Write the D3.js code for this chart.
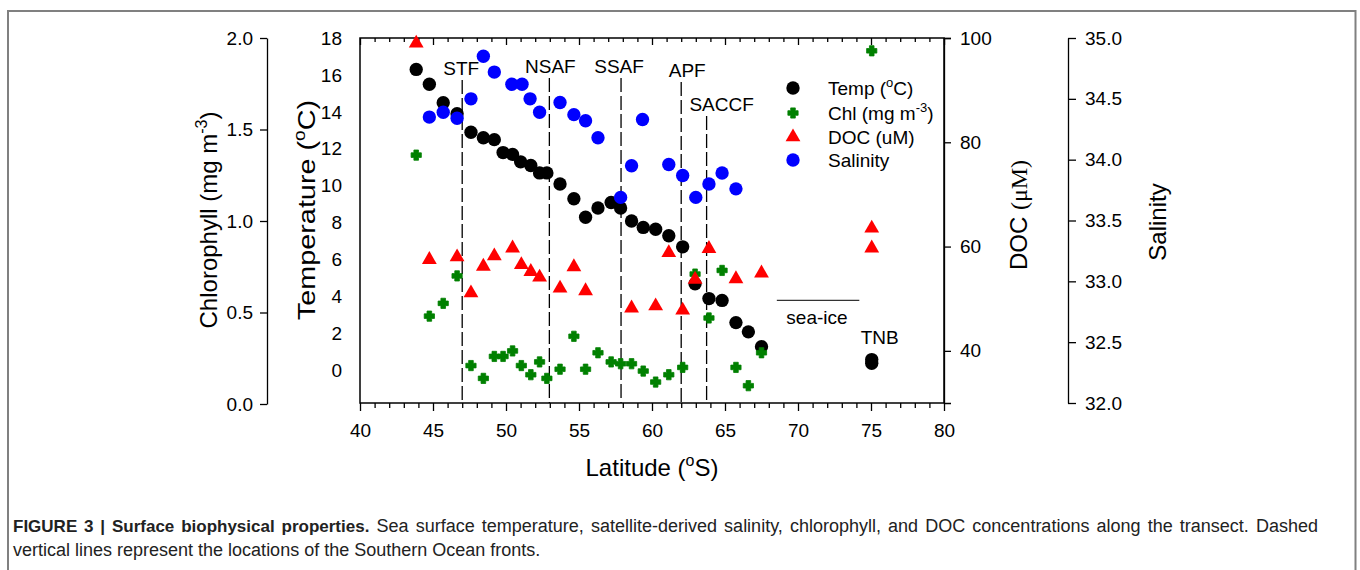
<!DOCTYPE html>
<meta charset="utf-8">
<style>
body { margin: 0; background: #fff; }
svg { display: block; font-family: "Liberation Sans", Arial, sans-serif; }
.axis text { font-size: 19px; fill: #000; }
.axis path, .axis line { stroke: #000; stroke-width: 1.3; }
.frame { fill: none; stroke: #000; stroke-width: 1.5; }
.front { stroke: #000; stroke-width: 1.3; stroke-dasharray: 14,4; }
.front-label, .note { font-size: 19px; }
.title { font-size: 24px; }
.legend text { font-size: 19px; }
.caption { font-size: 18px; fill: #222; }
</style>
<svg width="1360" height="570"></svg>

<script src="https://d3js.org/d3.v7.min.js"></script>
<script>

// temperature (oC)
var tempLat = [43.85, 44.75, 45.7, 46.65, 47.6, 48.45, 49.2, 49.8, 50.45, 51.0, 51.7, 52.3, 52.8, 53.7, 54.65, 55.45, 56.3, 57.2, 57.85, 58.6, 59.4, 60.25, 61.15, 62.1, 62.95, 63.9, 64.8, 65.75, 66.6, 67.5, 75.05, 75.05];
var tempVal = [16.3, 15.5, 14.5, 13.9, 12.9, 12.6, 12.5, 11.8, 11.7, 11.3, 11.1, 10.7, 10.7, 10.1, 9.3, 8.3, 8.8, 9.1, 8.8, 8.1, 7.75, 7.65, 7.3, 6.7, 4.7, 3.9, 3.8, 2.6, 2.1, 1.3, 0.6, 0.4];

// chlorophyll (mg m-3)
var chlLat = [43.85, 44.75, 45.7, 46.65, 47.6, 48.45, 49.2, 49.8, 50.45, 51.05, 51.7, 52.3, 52.8, 53.7, 54.65, 55.45, 56.3, 57.2, 57.85, 58.6, 59.4, 60.25, 61.15, 62.1, 62.95, 63.9, 64.8, 65.75, 66.6, 67.5, 75.05];
var chlVal = [1.36, 0.48, 0.55, 0.70, 0.21, 0.14, 0.26, 0.26, 0.29, 0.21, 0.16, 0.23, 0.14, 0.19, 0.37, 0.19, 0.28, 0.23, 0.22, 0.22, 0.18, 0.12, 0.16, 0.20, 0.71, 0.47, 0.73, 0.20, 0.10, 0.28, 1.93];

// DOC (uM)
var docLat = [43.85, 44.75, 46.65, 47.6, 48.45, 49.2, 50.45, 51.05, 51.7, 52.3, 53.7, 54.65, 55.45, 58.6, 60.25, 61.15, 62.1, 62.95, 63.9, 65.75, 67.5, 75.05, 75.05];
var docVal = [99.0, 57.5, 58.0, 51.1, 56.2, 58.2, 59.7, 56.5, 55.2, 54.1, 52.0, 56.1, 51.5, 48.2, 48.6, 58.8, 47.8, 53.7, 59.6, 53.8, 54.9, 63.5, 59.7];

// salinity
var salLat = [44.75, 45.7, 46.65, 47.6, 48.45, 49.2, 50.4, 51.1, 51.65, 52.3, 53.7, 54.65, 55.45, 56.3, 57.85, 58.6, 59.35, 61.15, 62.1, 63.0, 63.9, 64.8, 65.75];
var salVal = [34.35, 34.39, 34.34, 34.50, 34.85, 34.72, 34.62, 34.62, 34.50, 34.39, 34.47, 34.37, 34.32, 34.18, 33.69, 33.95, 34.33, 33.96, 33.87, 33.69, 33.80, 33.89, 33.76];

// Southern Ocean fronts
var frontNames = ["STF", "NSAF", "SSAF", "APF", "SACCF"];
var frontLat = [47.0, 52.97, 57.88, 62.0, 63.74];

var latTicks = [40, 45, 50, 55, 60, 65, 70, 75, 80];
var tempTicks = [0, 2, 4, 6, 8, 10, 12, 14, 16, 18];
var chlTicks = [0, 0.5, 1.0, 1.5, 2.0];
var docTicks = [40, 60, 80, 100];
var salTicks = [32, 32.5, 33, 33.5, 34, 34.5, 35];

var svg = d3.select("svg");

var pLeft = 360, pRight = 944, pTop = 38, pBottom = 403;

var x = d3.scaleLinear().domain([40, 80]).range([pLeft, pRight]);
var yTemp = d3.scaleLinear().domain([-1.75, 18]).range([pBottom, pTop]);
var yChl = d3.scaleLinear().domain([0, 2]).range([pBottom + 1, pTop]);
var yDoc = d3.scaleLinear().domain([30, 100]).range([pBottom, pTop]);
var ySal = d3.scaleLinear().domain([32, 35]).range([pBottom, pTop]);

// figure border
svg.append("path")
    .attr("d", "M8,575V11H1355.5V575")
    .attr("fill", "none")
    .attr("stroke", "#808080")
    .attr("stroke-width", 2);

// latitude axis, ticks outside at bottom, inside at top
var minor = d3.range(40, 81).filter(function(d) { return d % 5 !== 0; });

svg.append("g").attr("class", "axis")
    .attr("transform", "translate(0," + pBottom + ")")
    .call(d3.axisBottom(x).tickValues(latTicks).tickSize(8).tickPadding(13))
    .call(function(g) { g.select(".domain").remove(); });
svg.append("g").attr("class", "axis")
    .attr("transform", "translate(0," + pBottom + ")")
    .call(d3.axisBottom(x).tickValues(minor).tickSize(5).tickFormat(""))
    .call(function(g) { g.select(".domain").remove(); });
svg.append("g").attr("class", "axis")
    .attr("transform", "translate(0," + pTop + ")")
    .call(d3.axisBottom(x).tickValues(latTicks).tickSize(7).tickFormat(""))
    .call(function(g) { g.select(".domain").remove(); });
svg.append("g").attr("class", "axis")
    .attr("transform", "translate(0," + pTop + ")")
    .call(d3.axisBottom(x).tickValues(minor).tickSize(4).tickFormat(""))
    .call(function(g) { g.select(".domain").remove(); });

// temperature axis (on the frame, no tick marks)
svg.append("g").attr("class", "axis")
    .attr("transform", "translate(" + pLeft + ",0)")
    .call(d3.axisLeft(yTemp).tickValues(tempTicks).tickSize(0).tickPadding(18))
    .call(function(g) { g.select(".domain").remove(); });

// chlorophyll axis
svg.append("g").attr("class", "axis")
    .attr("transform", "translate(267,0)")
    .call(d3.axisLeft(yChl).tickValues(chlTicks).tickFormat(d3.format(".1f"))
      .tickSize(7).tickSizeOuter(0).tickPadding(7));

// DOC axis
svg.append("g").attr("class", "axis")
    .attr("transform", "translate(" + pRight + ",0)")
    .call(d3.axisRight(yDoc).tickValues(docTicks).tickSize(7).tickSizeOuter(7).tickPadding(9));

// salinity axis
svg.append("g").attr("class", "axis")
    .attr("transform", "translate(1068,0)")
    .call(d3.axisRight(ySal).tickValues(salTicks).tickFormat(d3.format(".1f"))
      .tickSize(8).tickSizeOuter(0).tickPadding(9));

svg.append("rect").attr("class", "frame")
    .attr("x", pLeft).attr("y", pTop)
    .attr("width", pRight - pLeft).attr("height", pBottom - pTop);

// fronts
var frontLabelDx = [-1, 1, -2, 6, 15];
var frontLabelY = [75, 73, 73, 77, 111];

svg.append("g").selectAll("line")
    .data(frontNames)
    .enter().append("line")
    .attr("class", "front")
    .attr("x1", function(d, i) { return x(frontLat[i]); })
    .attr("x2", function(d, i) { return x(frontLat[i]); })
    .attr("y1", function(d, i) { return frontLabelY[i] + 5; })
    .attr("y2", pBottom);

svg.append("g").selectAll("text")
    .data(frontNames)
    .enter().append("text")
    .attr("class", "front-label")
    .attr("text-anchor", "middle")
    .attr("x", function(d, i) { return x(frontLat[i]) + frontLabelDx[i]; })
    .attr("y", function(d, i) { return frontLabelY[i]; })
    .text(function(d) { return d; });

// sea-ice and TNB notes
svg.append("line")
    .attr("x1", x(68.55)).attr("x2", x(74.2))
    .attr("y1", yTemp(3.8)).attr("y2", yTemp(3.8))
    .attr("stroke", "#333").attr("stroke-width", 1.2);
svg.append("text").attr("class", "note")
    .attr("text-anchor", "middle")
    .attr("x", x(71.3)).attr("y", 324)
    .text("sea-ice");
svg.append("text").attr("class", "note")
    .attr("text-anchor", "middle")
    .attr("x", x(75.6)).attr("y", 344)
    .text("TNB");

// markers
var plusType = {
  draw: function(ctx, size) {
    var a = Math.sqrt(size) / 2, b = a * 0.45;
    ctx.moveTo(-a, -b); ctx.lineTo(-b, -b); ctx.lineTo(-b, -a);
    ctx.lineTo(b, -a); ctx.lineTo(b, -b); ctx.lineTo(a, -b);
    ctx.lineTo(a, b); ctx.lineTo(b, b); ctx.lineTo(b, a);
    ctx.lineTo(-b, a); ctx.lineTo(-b, b); ctx.lineTo(-a, b);
    ctx.closePath();
  }
};
var circle = d3.symbol().type(d3.symbolCircle).size(140);
var cross = d3.symbol().type(plusType).size(105);
var tri = d3.symbol().type(d3.symbolTriangle).size(95);

function plot(lats, vals, y, sym, color) {
  svg.append("g").selectAll("path")
      .data(vals)
      .enter().append("path")
      .attr("d", sym)
      .attr("fill", color)
      .attr("stroke", sym === cross ? color : "none")
      .attr("stroke-width", 0.8)
      .attr("stroke-linejoin", "round")
      .attr("transform", function(d, i) {
        return "translate(" + x(lats[i]) + "," + y(d) + ")";
      });
}

plot(tempLat, tempVal, yTemp, circle, "#000");
plot(chlLat, chlVal, yChl, cross, "#008000");
plot(docLat, docVal, yDoc, tri, "#ff0000");
plot(salLat, salVal, ySal, circle, "#0000ff");

// legend
var legendLabels = [["Temp (", "o", "C)"], ["Chl (mg m", "-3", ")"], ["DOC (uM)", "", ""], ["Salinity", "", ""]];
var legendSymbols = [circle, cross, tri, circle];
var legendColors = ["#000", "#008000", "#ff0000", "#0000ff"];
var legendY = [88, 113, 137, 160];

var legend = svg.append("g").attr("class", "legend");
legend.selectAll("path")
    .data(legendLabels)
    .enter().append("path")
    .attr("d", function(d, i) { return legendSymbols[i](); })
    .attr("fill", function(d, i) { return legendColors[i]; })
    .attr("stroke", function(d, i) { return i === 1 ? legendColors[i] : "none"; })
    .attr("stroke-width", 0.8)
    .attr("stroke-linejoin", "round")
    .attr("transform", function(d, i) { return "translate(793," + legendY[i] + ")"; });

legend.selectAll("text")
    .data(legendLabels)
    .enter().append("text")
    .attr("x", 828)
    .attr("y", function(d, i) { return legendY[i] + 7; })
    .each(function(d) {
      var t = d3.select(this);
      t.append("tspan").text(d[0]);
      if (d[1]) {
        t.append("tspan").attr("dy", -8).style("font-size", "13px").text(d[1]);
        t.append("tspan").attr("dy", 8).text(d[2]);
      }
    });

// axis titles
function supTitle(transform, a, s, b) {
  var t = svg.append("text").attr("class", "title")
      .attr("text-anchor", "middle")
      .attr("transform", transform);
  t.append("tspan").text(a);
  t.append("tspan").attr("dy", -10).style("font-size", "16px").text(s);
  t.append("tspan").attr("dy", 10).text(b);
  return t;
}

supTitle("translate(652,476)", "Latitude (", "o", "S)");
supTitle("translate(315,210) rotate(-90) scale(1.2,1)", "Temperature (", "o", "C)");
supTitle("translate(217,220) rotate(-90)", "Chlorophyll (mg m", "-3", ")");

var docTitle = svg.append("text").attr("class", "title")
    .attr("text-anchor", "middle")
    .attr("transform", "translate(1027,215) rotate(-90)");
docTitle.append("tspan").text("DOC ");
docTitle.append("tspan").style("font-family", "'Liberation Serif', serif").text("(\u03bcM)");

svg.append("text").attr("class", "title")
    .attr("text-anchor", "middle")
    .attr("transform", "translate(1166,222) rotate(-90)")
    .text("Salinity");

// caption, first line justified to the right margin
var cap1 = svg.append("text").attr("class", "caption").attr("x", 13).attr("y", 532);
cap1.append("tspan").style("font-weight", "bold").style("font-size", "17px")
    .text("FIGURE 3 | Surface biophysical properties.");
cap1.append("tspan").text(" Sea surface temperature, satellite-derived salinity, chlorophyll, and DOC concentrations along the transect. Dashed");
var capLen = cap1.node().getComputedTextLength();
var capSpaces = cap1.text().split(" ").length - 1;
cap1.style("word-spacing", Math.max(0, (1305 - capLen) / capSpaces) + "px");

svg.append("text").attr("class", "caption").attr("x", 13).attr("y", 556)
    .text("vertical lines represent the locations of the Southern Ocean fronts.");

</script>
